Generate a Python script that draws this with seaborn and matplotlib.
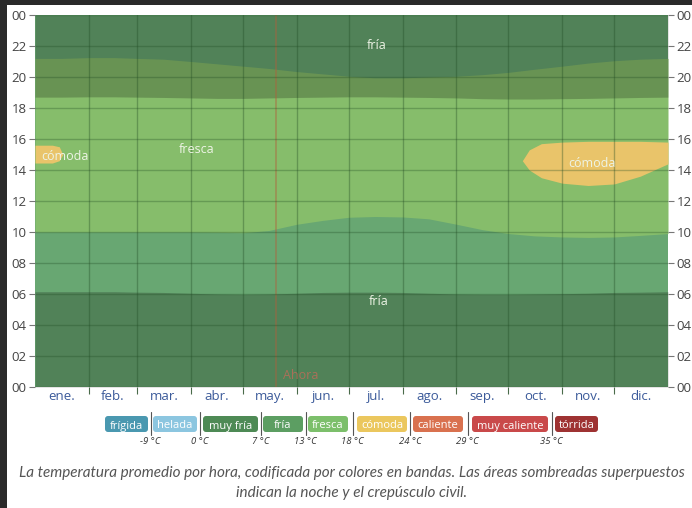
import numpy as np
import pandas as pd
import seaborn as sns
import matplotlib.pyplot as plt
from matplotlib.patches import FancyBboxPatch, Rectangle

sns.set_theme(style='white')
plt.rcParams['font.family'] = ['Open Sans', 'DejaVu Sans']

# sample days of the year (month starts and mid-months)
doy = [0, 15, 31, 46, 59, 74, 90, 105, 120, 135, 151, 166, 181,
       196, 212, 227, 243, 258, 273, 288, 304, 319, 334, 349, 365]
# hour where fría turns into fresca in the morning
morning_edge = [10.0, 10.0, 10.0, 10.0, 10.0, 10.0, 10.0, 9.98, 9.95, 10.1, 10.5, 10.75, 10.95,
                11.0, 10.97, 10.85, 10.5, 10.15, 9.9, 9.75, 9.68, 9.65, 9.68, 9.78, 9.9]
# hour where fresca turns back into fría in the evening
evening_edge = [21.2, 21.2, 21.25, 21.25, 21.2, 21.15, 21.0, 20.85, 20.7, 20.55, 20.35, 20.2, 20.05,
                19.95, 19.95, 20.0, 20.05, 20.15, 20.3, 20.5, 20.7, 20.9, 21.05, 21.15, 21.2]
# end and start of night (civil twilight included)
sunrise = [6.15, 6.15, 6.15, 6.15, 6.12, 6.1, 6.05, 6.0, 5.98, 6.0, 6.05, 6.1, 6.12,
           6.12, 6.1, 6.05, 6.0, 5.98, 5.98, 6.0, 6.02, 6.05, 6.1, 6.12, 6.15]
sunset = [18.7, 18.7, 18.72, 18.72, 18.7, 18.68, 18.65, 18.62, 18.62, 18.65, 18.68, 18.7, 18.72,
          18.72, 18.7, 18.68, 18.65, 18.6, 18.58, 18.58, 18.6, 18.62, 18.65, 18.68, 18.7]

# comoda patches
comoda1_days = [0, 10, 14, 16]
comoda1_low = [14.45, 14.45, 14.6, 15.0]
comoda1_high = [15.6, 15.6, 15.5, 15.0]
comoda2_days = [281, 285, 292, 304, 319, 334, 349, 365]
comoda2_low = [14.6, 14.0, 13.5, 13.15, 13.0, 13.1, 13.6, 14.4]
comoda2_high = [14.6, 15.3, 15.7, 15.8, 15.85, 15.85, 15.85, 15.8]

month_starts = [0, 31, 59, 90, 120, 151, 181, 212, 243, 273, 304, 334, 365]
month_labels = ['ene.', 'feb.', 'mar.', 'abr.', 'may.', 'jun.',
                'jul.', 'ago.', 'sep.', 'oct.', 'nov.', 'dic.']
hour_ticks = list(range(0, 25, 2))
hour_labels = ['00', '02', '04', '06', '08', '10', '12', '14', '16', '18', '20', '22', '00']

now_day = 139

legend_labels = ['frígida', 'helada', 'muy fría', 'fría', 'fresca', 'cómoda',
                 'caliente', 'muy caliente', 'tórrida']
legend_colors = ['#4a98b0', '#8cc6e0', '#4e8a55', '#5c9e62', '#7cbf6b', '#ebc75e',
                 '#d9714f', '#c9494a', '#9e3232']
legend_temps = ['-9 °C', '0 °C', '7 °C', '13 °C', '18 °C', '24 °C', '29 °C', '35 °C']

c_fria = '#68a772'
c_fresca = '#86bd6b'
c_comoda = '#e9c46a'

fig = plt.figure(figsize=(6.92, 5.08), dpi=100)
fig.patch.set_facecolor('white')
ax = fig.add_axes([35 / 692, 1 - 387 / 508, 633 / 692, 372 / 508])

ax.fill_between(doy, 0, 24, color=c_fria, lw=0)
ax.fill_between(doy, morning_edge, evening_edge, color=c_fresca, lw=0)
ax.fill_between(comoda1_days, comoda1_low, comoda1_high, color=c_comoda, lw=0)
ax.fill_between(comoda2_days, comoda2_low, comoda2_high, color=c_comoda, lw=0)

# night shading
ax.fill_between(doy, 0, sunrise, color='black', alpha=0.22, lw=0)
ax.fill_between(doy, sunset, 24, color='black', alpha=0.22, lw=0)

ax.set_xlim(0, 365)
ax.set_ylim(0, 24)

mids = [(a + b) / 2 for a, b in zip(month_starts[:-1], month_starts[1:])]
ax.set_xticks(mids)
ax.set_xticklabels(month_labels, color='#3b5a9a', fontsize=9.5)
ax.set_xticks(month_starts[1:-1], minor=True)
ax.set_yticks(hour_ticks)
ax.set_yticklabels(hour_labels, color='#444444', fontsize=9.5)
ax.tick_params(axis='y', which='major', left=True, right=True, labelright=True,
               length=4, width=0.8, color='#777777', pad=2)
ax.tick_params(axis='x', which='major', length=0, pad=2)
ax.tick_params(axis='x', which='minor', bottom=True, length=5, width=0.8, color='#4a6b4a')
ax.set_axisbelow(False)
ax.grid(True, which='minor', axis='x', color='#1f4a22', alpha=0.35, lw=1)
ax.grid(True, which='major', axis='y', color='#1f4a22', alpha=0.3, lw=1)
ax.grid(False, which='major', axis='x')
for s in ax.spines.values():
    s.set_visible(False)

ax.axvline(now_day, color='#b0603c', alpha=0.5, lw=1.2)
ax.text(now_day + 14, 0.75, 'Ahora', color='#c86a58', alpha=0.75, fontsize=9,
        ha='center', va='center')

lab = dict(color='#eef4e6', fontsize=9, ha='center', va='center')
ax.text(197, 22.05, 'fría', **lab)
ax.text(198, 5.5, 'fría', **lab)
ax.text(93, 15.3, 'fresca', **lab)
ax.text(17, 14.9, 'cómoda', **lab)
ax.text(321, 14.45, 'cómoda', **lab)

# overlay in pixel coordinates for legend, caption and frame
ov = fig.add_axes([0, 0, 1, 1], zorder=5)
ov.set_xlim(0, 692)
ov.set_ylim(508, 0)
ov.axis('off')
ov.add_patch(Rectangle((0, 0), 692, 4.5, color='#2a2a2a', lw=0))
ov.add_patch(Rectangle((0, 0), 7, 508, color='#2a2a2a', lw=0))

box_edges = [(105, 148), (153, 197), (203, 258), (263, 303), (308, 348),
             (357, 407), (413, 463), (472, 548), (555, 598)]
seps = [150.5, 200, 260.5, 305.5, 352.5, 410, 467.5, 551.5]
for (x0, x1), name, col in zip(box_edges, legend_labels, legend_colors):
    ov.add_patch(FancyBboxPatch((x0, 416), x1 - x0, 16,
                                boxstyle='round,pad=0,rounding_size=3',
                                fc=col, ec='none'))
    ov.text((x0 + x1) / 2, 424.5, name, color='white', fontsize=8,
            ha='center', va='center_baseline')
for sx, t in zip(seps, legend_temps):
    ov.plot([sx, sx], [412, 435], color='#555555', lw=0.8)
    ov.text(sx, 442, t, color='#333333', fontsize=6.8, style='italic',
            ha='center', va='center')

cap = dict(color='#555555', fontsize=11, style='italic', ha='center', va='center',
           family=['Lato', 'DejaVu Sans'])
ov.text(352, 473, 'La temperatura promedio por hora, codificada por colores en bandas. '
        'Las áreas sombreadas superpuestos', **cap)
ov.text(352, 493, 'indican la noche y el crepúsculo civil.', **cap)

fig.savefig('out.png', dpi=100)
